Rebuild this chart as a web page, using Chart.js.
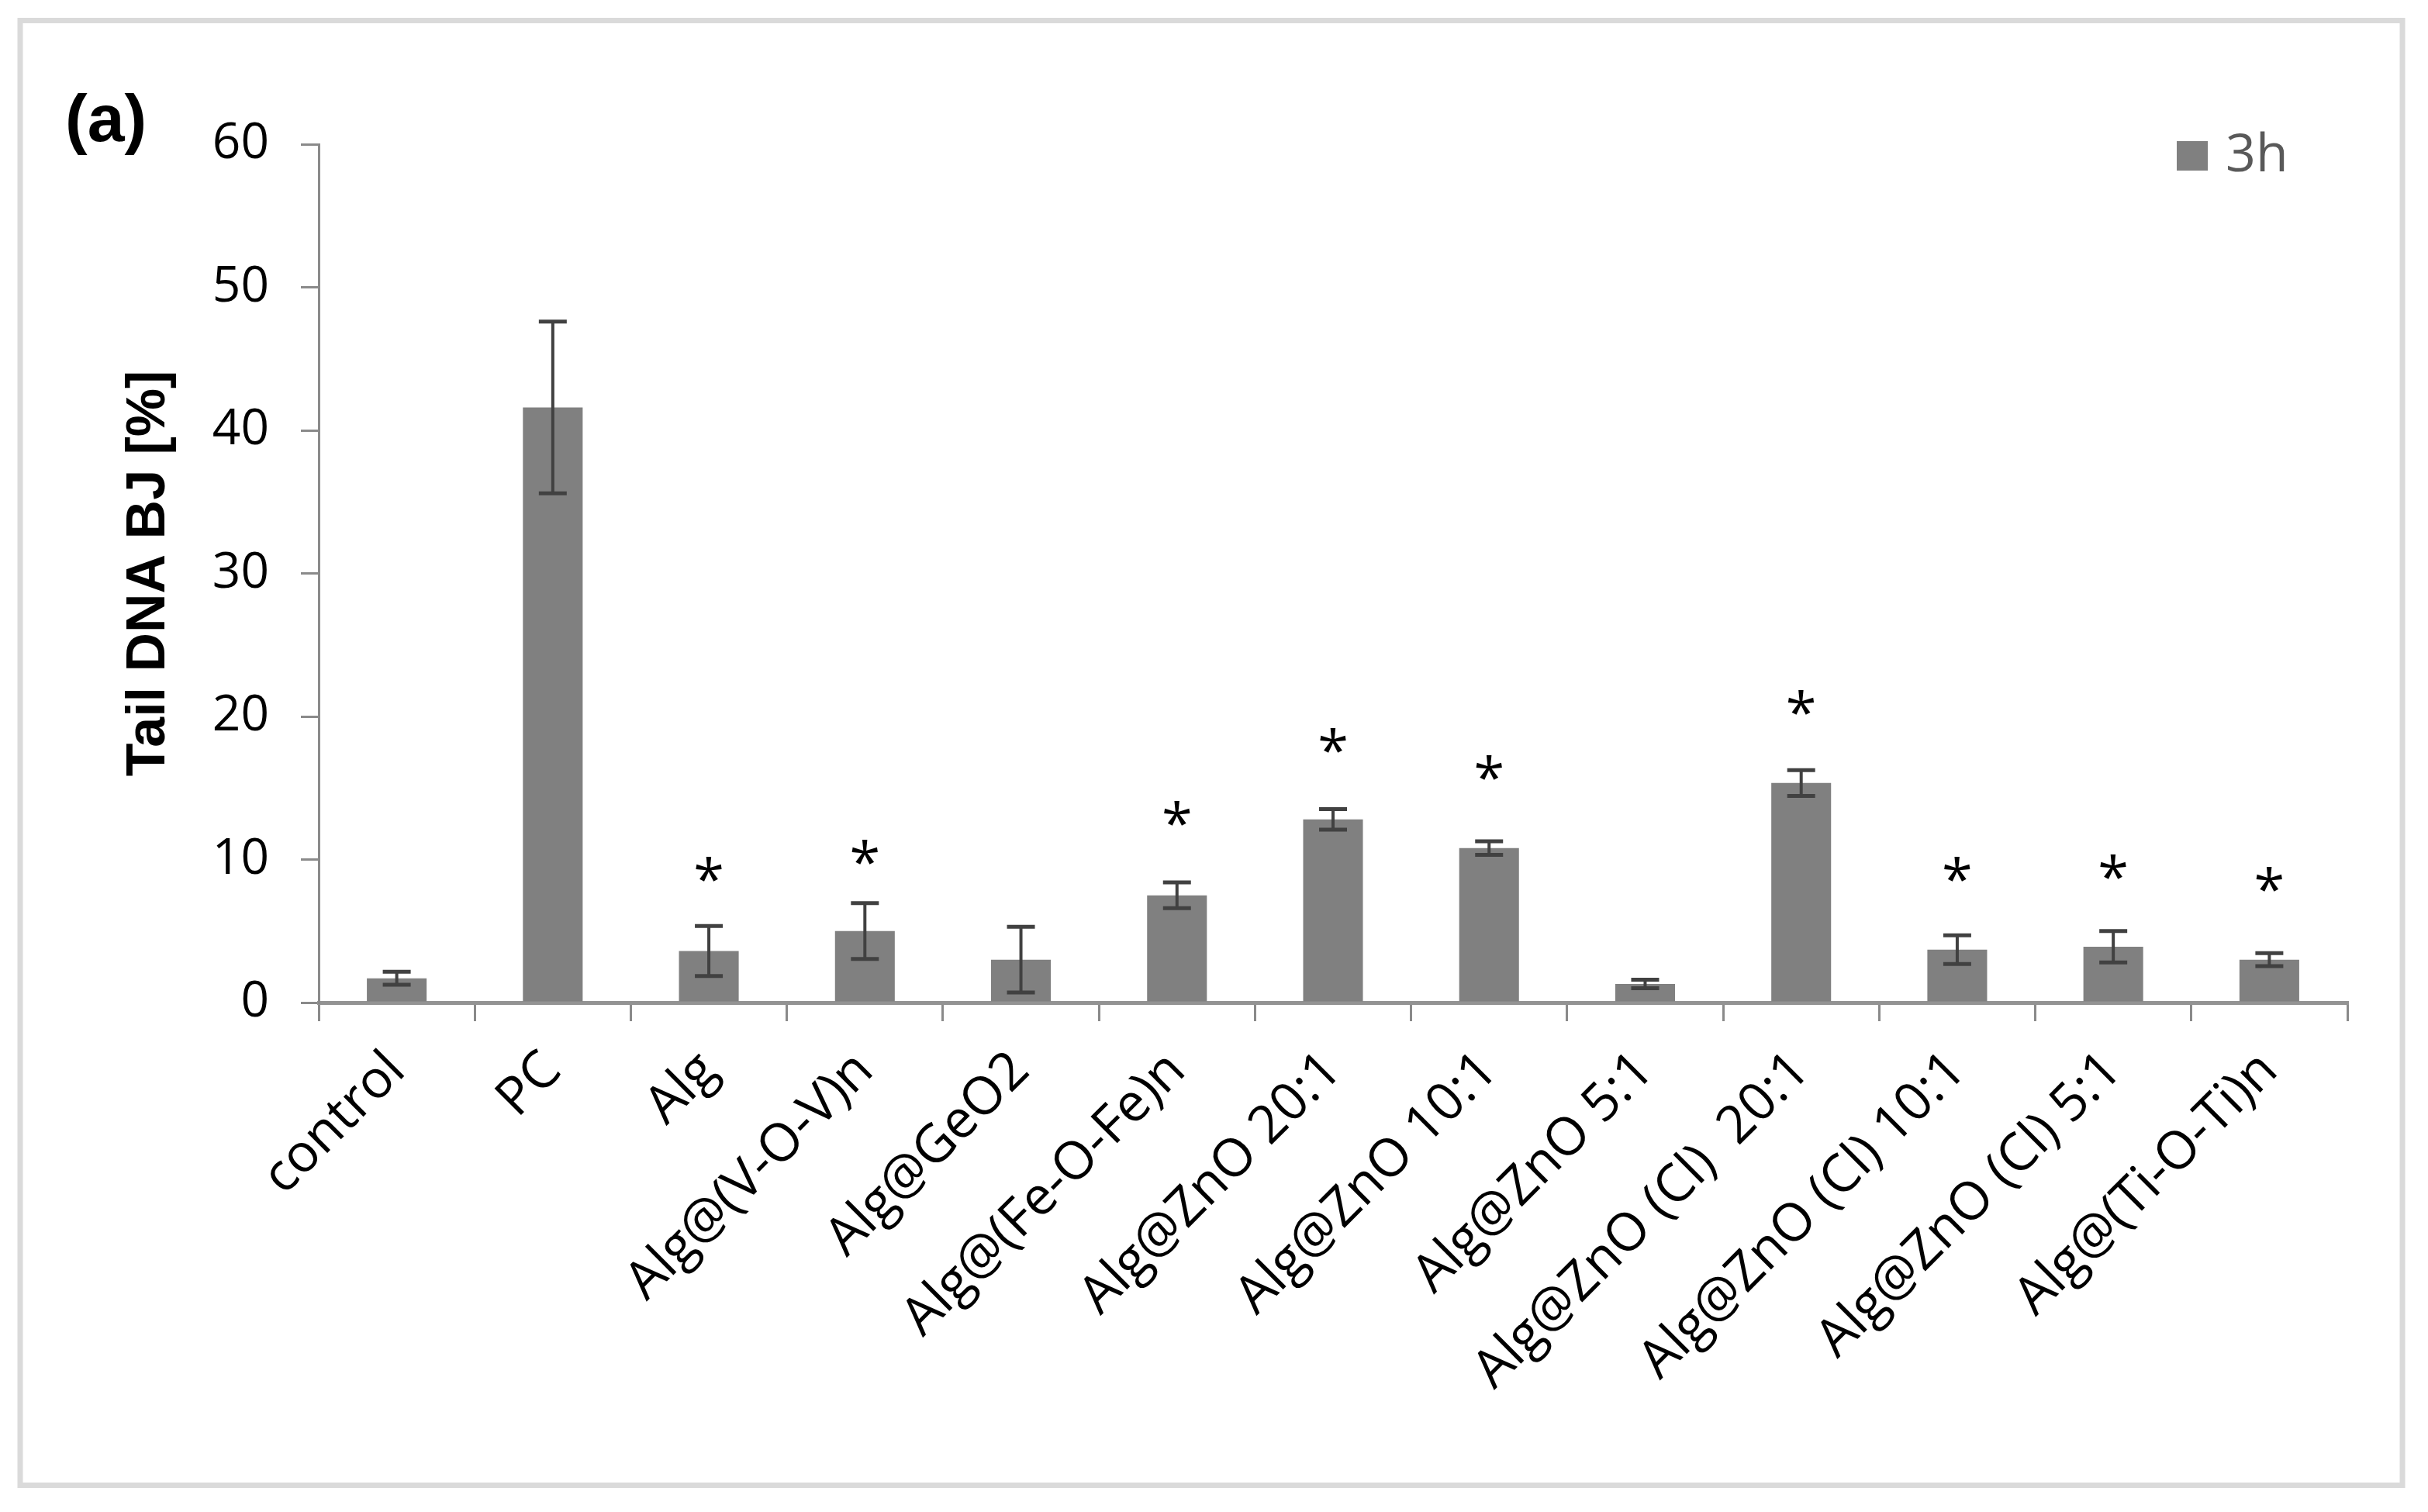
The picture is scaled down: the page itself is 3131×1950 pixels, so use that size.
<!DOCTYPE html>
<html lang="en">
<head>
<meta charset="UTF-8">
<title>Tail DNA BJ - 3h</title>
<script src="https://cdn.jsdelivr.net/npm/chart.js"></script>
<style>
  html, body { margin: 0; padding: 0; background: #fff; }
  #wrap { width: 3131px; height: 1950px; }
</style>
</head>
<body>
<div id="wrap"><canvas id="chart" width="3131" height="1950"></canvas></div>
<script>
// data
const labels = ['control', 'PC', 'Alg', 'Alg@(V-O-V)n', 'Alg@GeO2', 'Alg@(Fe-O-Fe)n',
  'Alg@ZnO 20:1', 'Alg@ZnO 10:1', 'Alg@ZnO 5:1', 'Alg@ZnO (Cl)  20:1',
  'Alg@ZnO (Cl) 10:1', 'Alg@ZnO (Cl) 5:1', 'Alg@(Ti-O-Ti)n'];
const tail3h = [1.7, 41.6, 3.6, 5.0, 3.0, 7.5, 12.8, 10.8, 1.3, 15.35, 3.7, 3.9, 3.0];
const err3h  = [0.45, 6.0, 1.75, 1.95, 2.3, 0.9, 0.72, 0.47, 0.3, 0.9, 1.0, 1.1, 0.45];
// where the significance stars sit (y value), null = no star
const starY  = [null, null, 9.3, 10.5, null, 13.2, 18.3, 16.4, null, 21.0, 9.3, 9.5, 8.6];
const yMin = 0, yMax = 60, yStep = 10;

const GREY = '#808080';
const AXIS = '#8a8a8a';

// error bars, stars, legend, panel letter and frame
const extras = {
  id: 'extras',
  beforeDraw(chart) {
    const c = chart.ctx;
    c.save();
    c.strokeStyle = '#dadada';
    c.lineWidth = 7;
    c.strokeRect(26, 26.5, 3072, 1889);
    c.restore();
  },
  afterDatasetsDraw(chart) {
    const c = chart.ctx;
    const meta = chart.getDatasetMeta(0);
    const y = chart.scales.y;
    c.save();
    c.strokeStyle = '#414141';
    c.lineWidth = 4;
    meta.data.forEach((bar, i) => {
      const top = y.getPixelForValue(tail3h[i] + err3h[i]);
      const bot = y.getPixelForValue(tail3h[i] - err3h[i]);
      c.beginPath();
      c.moveTo(bar.x, top); c.lineTo(bar.x, bot);
      c.stroke();
      c.lineWidth = 5;
      c.beginPath();
      c.moveTo(bar.x - 18, top); c.lineTo(bar.x + 18, top);
      c.moveTo(bar.x - 18, bot); c.lineTo(bar.x + 18, bot);
      c.stroke();
      c.lineWidth = 4;
    });
    c.fillStyle = '#000';
    c.font = '72px "Open Sans"';
    c.textAlign = 'center';
    c.textBaseline = 'alphabetic';
    const m = c.measureText('*');
    const mid = (m.actualBoundingBoxAscent - m.actualBoundingBoxDescent) / 2;
    meta.data.forEach((bar, i) => {
      if (starY[i] == null) return;
      c.fillText('*', bar.x, y.getPixelForValue(starY[i]) + mid);
    });
    c.restore();
  },
  afterDraw(chart) {
    const c = chart.ctx;
    const a = chart.chartArea;
    c.save();
    // legend
    c.fillStyle = GREY;
    c.fillRect(a.right - 220, a.top - 4, 40, 38);
    c.fillStyle = '#595959';
    c.font = '68px "Open Sans"';
    c.textBaseline = 'alphabetic';
    c.textAlign = 'left';
    c.fillText(chart.data.datasets[0].label, a.right - 157, a.top + 35);
    // panel letter
    c.fillStyle = '#000';
    c.font = 'bold 86px "Liberation Sans"';
    c.fillText('(a)', 84, 182);
    c.restore();
  }
};

new Chart(document.getElementById('chart'), {
  type: 'bar',
  data: {
    labels: labels,
    datasets: [{
      label: '3h',
      data: tail3h,
      backgroundColor: GREY,
      borderWidth: 0,
      barPercentage: 0.383,
      categoryPercentage: 1.0
    }]
  },
  options: {
    responsive: false,
    devicePixelRatio: 1,
    animation: false,
    layout: { padding: { top: 186, right: 104, left: 0, bottom: 0 } },
    plugins: { legend: { display: false }, tooltip: { enabled: false } },
    scales: {
      x: {
        afterFit(s) { s.height = 657; },
        grid: { drawOnChartArea: false, offset: true, color: AXIS, lineWidth: 3, tickLength: 24 },
        border: { display: true, color: '#939393', width: 5 },
        ticks: {
          autoSkip: false, minRotation: 45, maxRotation: 45,
          color: '#000', padding: 24,
          font: { family: '"Open Sans"', size: 68 }
        }
      },
      y: {
        min: yMin, max: yMax,
        afterFit(s) { s.width = 411; },
        grid: { drawOnChartArea: false, color: AXIS, lineWidth: 3, tickLength: 23 },
        border: { display: true, color: AXIS, width: 3 },
        ticks: {
          stepSize: yStep, color: '#000', padding: 41,
          font: { family: '"Open Sans"', size: 64 }
        },
        title: {
          display: true, text: 'Tail DNA BJ [%]', color: '#000',
          font: { family: '"Liberation Sans"', size: 70, weight: 'bold', lineHeight: 1.2 },
          padding: { top: 151, bottom: 0 }
        }
      }
    }
  },
  plugins: [extras]
});
</script>
</body>
</html>
